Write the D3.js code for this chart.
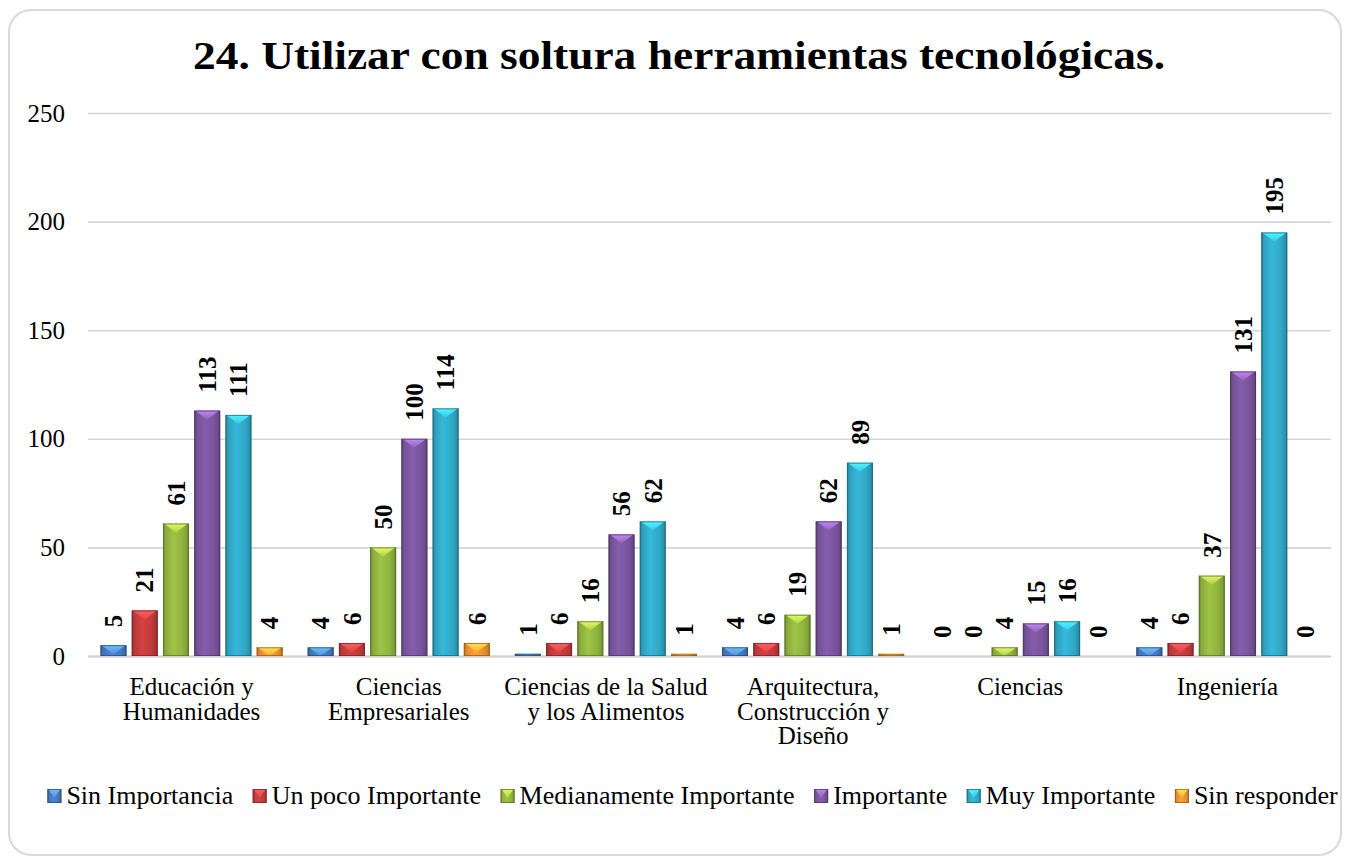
<!DOCTYPE html>
<html>
<head>
<meta charset="utf-8">
<script src="https://cdn.jsdelivr.net/npm/d3@7"></script>
<style>
  html, body { margin: 0; padding: 0; background: #ffffff; }
  svg { display: block; }
</style>
</head>
<body>
<svg id="chart" width="1349" height="867"></svg>
<script>
// ---- data ----
const chartTitle = "24. Utilizar con soltura herramientas tecnológicas.";
const categories = [
  "Educación y\nHumanidades",
  "Ciencias\nEmpresariales",
  "Ciencias de la Salud\ny los Alimentos",
  "Arquitectura,\nConstrucción y\nDiseño",
  "Ciencias",
  "Ingeniería"
];
const seriesNames = [
  "Sin Importancia",
  "Un poco Importante",
  "Medianamente Importante",
  "Importante",
  "Muy Importante",
  "Sin responder"
];
const sinImportancia        = [5, 4, 1, 4, 0, 4];
const unPocoImportante      = [21, 6, 6, 6, 0, 6];
const medianamenteImportante= [61, 50, 16, 19, 4, 37];
const importante            = [113, 100, 56, 62, 15, 131];
const muyImportante         = [111, 114, 62, 89, 16, 195];
const sinResponder          = [4, 6, 1, 1, 0, 0];
const yTicks = [0, 50, 100, 150, 200, 250];

const seriesValues = [sinImportancia, unPocoImportante, medianamenteImportante,
                      importante, muyImportante, sinResponder];
const seriesColors = ["#4579bf", "#c23b3d", "#91b33f", "#7a559d", "#31a8c7", "#ee9130"];

// ---- layout ----
const plot = { left: 88, right: 1331, top: 113, bottom: 656 };
const FONT = "'Liberation Serif', 'Times New Roman', serif";

const svg = d3.select("#chart");
const defs = svg.append("defs");

// outer frame
svg.append("rect")
  .attr("x", 9).attr("y", 10)
  .attr("width", 1332).attr("height", 845)
  .attr("rx", 22).attr("ry", 22)
  .attr("fill", "#ffffff")
  .attr("stroke", "#d9d9d9")
  .attr("stroke-width", 2);

// title
const title = svg.append("text")
  .attr("x", 679).attr("y", 69)
  .attr("text-anchor", "middle")
  .attr("font-family", FONT)
  .attr("font-weight", "bold")
  .attr("font-size", 40)
  .attr("fill", "#000")
  .text(chartTitle);
title.attr("textLength", 972).attr("lengthAdjust", "spacingAndGlyphs");

// scales
const x0 = d3.scaleBand().domain(categories).range([plot.left, plot.right]).padding(0);
const x1 = d3.scaleBand().domain(seriesNames).range([0, x0.bandwidth()])
  .paddingInner(0.167).paddingOuter(0.4);
const y = d3.scaleLinear().domain([0, 250]).range([plot.bottom, plot.top]);

// gridlines + y labels
const yAxis = svg.append("g")
  .attr("transform", `translate(${plot.left},0)`)
  .call(d3.axisLeft(y).tickValues(yTicks)
    .tickSize(-(plot.right - plot.left)).tickPadding(23).tickFormat(d3.format("d")));
yAxis.select(".domain").remove();
yAxis.selectAll(".tick line")
  .attr("stroke", "#d6d6d6").attr("stroke-width", 1.6);
yAxis.selectAll(".tick text")
  .attr("font-family", FONT).attr("font-size", 25).attr("fill", "#000");

// baseline
svg.append("line")
  .attr("x1", plot.left).attr("x2", plot.right)
  .attr("y1", y(0) + 0.5).attr("y2", y(0) + 0.5)
  .attr("stroke", "#cfcfcf").attr("stroke-width", 2);

// gradients for bevelled bars
seriesColors.forEach((c, i) => {
  const base = d3.color(c);
  const g = defs.append("linearGradient").attr("id", "bar" + i)
    .attr("x1", "0").attr("x2", "1").attr("y1", "0").attr("y2", "0");
  [[0, base.darker(0.9)], [0.1, base.darker(0.15)], [0.4, base.brighter(0.25)],
   [0.75, base], [0.9, base.darker(0.3)], [1, base.darker(1.0)]]
    .forEach(([o, col]) => g.append("stop").attr("offset", o).attr("stop-color", col));
  const t = defs.append("linearGradient").attr("id", "top" + i)
    .attr("x1", "0").attr("x2", "0").attr("y1", "0").attr("y2", "1");
  t.append("stop").attr("offset", 0).attr("stop-color", base.brighter(1.4));
  t.append("stop").attr("offset", 1).attr("stop-color", base.brighter(0.5));
});

function drawBevel(g, x, yTop, w, h, i) {
  const base = d3.color(seriesColors[i]);
  g.append("rect")
    .attr("x", x).attr("y", yTop).attr("width", w).attr("height", h)
    .attr("fill", `url(#bar${i})`);
  const b = Math.min(9, h);
  g.append("path")
    .attr("d", `M${x + 1},${yTop} L${x + w - 1},${yTop} L${x + w / 2},${yTop + b} Z`)
    .attr("fill", `url(#top${i})`).attr("opacity", 0.9);
  g.append("rect")
    .attr("x", x + 0.5).attr("y", yTop + 0.5)
    .attr("width", Math.max(0, w - 1)).attr("height", Math.max(0, h - 1))
    .attr("fill", "none")
    .attr("stroke", base.darker(1.3)).attr("stroke-opacity", 0.75).attr("stroke-width", 1);
}

// bars and value labels
const groups = svg.append("g").selectAll("g")
  .data(categories).join("g")
  .attr("transform", d => `translate(${x0(d)},0)`);

groups.each(function (cat, ci) {
  const g = d3.select(this);
  seriesNames.forEach((s, si) => {
    const v = seriesValues[si][ci];
    const bx = x1(s), bw = x1.bandwidth();
    const top = y(v), h = y(0) - y(v);
    if (v > 0) drawBevel(g.append("g"), bx, top, bw, h, si);
    const lx = bx + bw / 2, ly = top - 18;
    g.append("text")
      .attr("transform", `translate(${lx},${ly}) rotate(-90)`)
      .attr("dy", "0.35em")
      .attr("text-anchor", "start")
      .attr("font-family", FONT).attr("font-weight", "bold").attr("font-size", 25)
      .attr("fill", "#000")
      .text(v);
  });
});

// category labels
categories.forEach(cat => {
  const lines = cat.split("\n");
  const t = svg.append("text")
    .attr("text-anchor", "middle")
    .attr("font-family", FONT).attr("font-size", 25).attr("fill", "#000");
  lines.forEach((ln, k) => {
    t.append("tspan")
      .attr("x", x0(cat) + x0.bandwidth() / 2)
      .attr("y", 695 + k * 24.5)
      .text(ln);
  });
});

// legend
const legend = svg.append("g");
const legendGap = 19.5;
let cursor = 0;
seriesNames.forEach((s, i) => {
  const item = legend.append("g").attr("transform", `translate(${cursor},0)`);
  drawBevel(item, 0, 789, 14, 14, i);
  const txt = item.append("text")
    .attr("x", 19).attr("y", 804)
    .attr("font-family", FONT).attr("font-size", 26).attr("fill", "#000")
    .text(s);
  cursor += 19 + txt.node().getComputedTextLength() + legendGap;
});
const legendWidth = cursor - legendGap;
legend.attr("transform", `translate(${692.5 - legendWidth / 2},0)`);
</script>
</body>
</html>
